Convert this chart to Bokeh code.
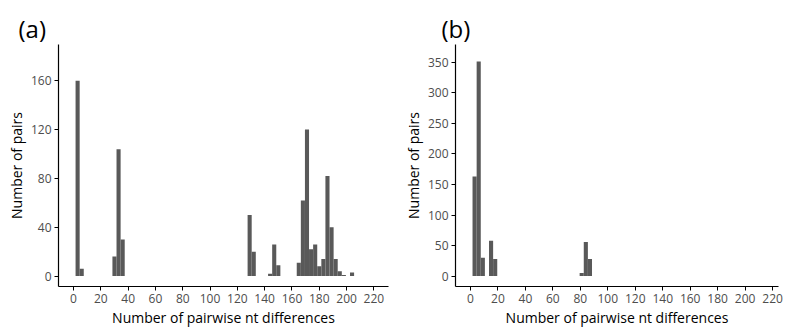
from bokeh.plotting import figure
from bokeh.layouts import row
from bokeh.models import FixedTicker, Range1d
from bokeh.embed import file_html
from bokeh.resources import INLINE

# ---- data (bin centres, bin width 3) ----
a_centers = [3, 6, 30, 33, 36, 129, 132, 144, 147, 150, 165, 168, 171, 174, 177,
             180, 183, 186, 189, 192, 195, 198, 204]
a_counts = [160, 6, 16, 104, 30, 50, 20, 2, 26, 9, 11, 62, 120, 22, 26,
            8, 14, 82, 40, 14, 4, 1, 3]

b_centers = [3, 6, 9, 15, 18, 81, 84, 87]
b_counts = [163, 351, 30, 58, 28, 5, 56, 28]

x_ticks = [0, 20, 40, 60, 80, 100, 120, 140, 160, 180, 200, 220]
a_yticks = [0, 40, 80, 120, 160]
b_yticks = [0, 50, 100, 150, 200, 250, 300, 350]

BIN = 3
FONT = "Open Sans"
BAR = "#595959"


def make_panel(title, centers, counts, yticks, width, xr, yr, left, right, title_offset):
    p = figure(width=width, height=333, output_backend="svg", toolbar_location=None,
               x_range=Range1d(*xr), y_range=Range1d(*yr),
               min_border_left=left, min_border_right=right,
               min_border_top=44, min_border_bottom=47)
    p.vbar(x=centers, top=counts, bottom=0, width=BIN, fill_color=BAR, line_color=None)
    p.title.text = title
    p.title.text_font = FONT
    p.title.text_font_size = "24px"
    p.title.text_font_style = "normal"
    p.title.text_color = "black"
    p.title.align = "left"
    p.title.offset = title_offset
    p.title.standoff = 0
    p.outline_line_color = None
    p.xgrid.visible = False
    p.ygrid.visible = False
    p.background_fill_color = "white"
    p.border_fill_color = "white"

    p.xaxis.ticker = FixedTicker(ticks=x_ticks)
    p.yaxis.ticker = FixedTicker(ticks=yticks)
    p.xaxis.axis_label = "Number of pairwise nt differences"
    p.yaxis.axis_label = "Number of pairs"
    for ax in (p.xaxis, p.yaxis):
        ax.axis_line_color = "black"
        ax.axis_line_width = 1.2
        ax.major_tick_line_color = "black"
        ax.major_tick_out = 4
        ax.major_tick_in = 0
        ax.minor_tick_line_color = None
        ax.major_label_text_font = FONT
        ax.major_label_text_font_size = "12px"
        ax.major_label_text_color = "#4d4d4d"
        ax.major_label_standoff = 3
        ax.axis_label_text_font = FONT
        ax.axis_label_text_font_size = "14px"
        ax.axis_label_text_font_style = "normal"
        ax.axis_label_text_color = "black"
        ax.axis_label_standoff = 2
    return p


pa = make_panel("(a)", a_centers, a_counts, a_yticks, 400,
                (-11.0, 230.7), (-8.5, 189.7), 58, 12, -40)
pb = make_panel("(b)", b_centers, b_counts, b_yticks, 389,
                (-10.9, 224.3), (-17.0, 379.0), 49, 11, -14)

layout = row(pa, pb)
open("out.html", "w").write(file_html(layout, INLINE))
